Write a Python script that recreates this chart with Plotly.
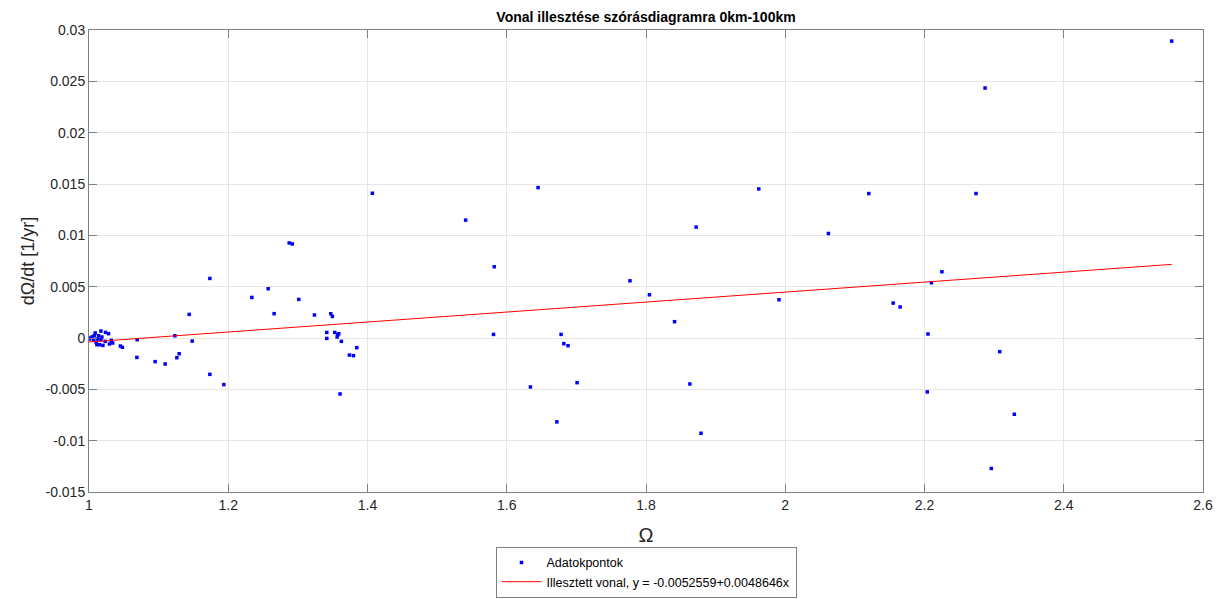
import plotly.graph_objects as go

# Scatter data (Omega, dOmega/dt)
omega = [
    1.0005, 1.0089, 1.0171, 1.0237, 1.028, 1.0042, 1.0075, 1.0137, 1.0185,
    1.0007, 1.0065, 1.0122, 1.0171, 1.0113, 1.0151, 1.02, 1.0294, 1.0103, 1.0233,
    1.032, 1.034, 1.045, 1.048,
    1.0692, 1.0688, 1.095, 1.1094, 1.1233, 1.1262, 1.1295, 1.1439, 1.1482,
    1.1736, 1.1736, 1.1937, 1.2339, 1.2573, 1.2659, 1.2875, 1.292, 1.3013,
    1.3238, 1.3473, 1.3496, 1.3415, 1.353, 1.3415, 1.3574, 1.3588, 1.3564,
    1.3625, 1.3846, 1.374, 1.3798, 1.3606, 1.407,
    1.541, 1.581, 1.582, 1.634, 1.645, 1.672, 1.678, 1.682, 1.688, 1.701,
    1.777, 1.805, 1.841, 1.863, 1.872, 1.879, 1.962, 1.991,
    2.062, 2.120, 2.155, 2.165, 2.204, 2.205, 2.210, 2.225, 2.274, 2.287,
    2.296, 2.308, 2.329, 2.555,
]
domega = [
    0.0, 0.00049, 0.00068, 0.00055, 0.00042, 0.0001, 0.00022, 0.00022, 0.0001,
    -0.0001, -0.00017, -0.0001, -0.00017, -0.00065, -0.00065, -0.00072, -0.00058, -0.00043, -0.00033,
    -0.00023, -0.00049, -0.00078, -0.00091,
    -0.00017, -0.00189, -0.0023, -0.00253, 0.00022, -0.00192, -0.00153, 0.0023, -0.0003,
    0.0058, -0.00354, -0.00454, 0.00395, 0.0048, 0.00237, 0.00926, 0.00916, 0.00376,
    0.00224, 0.00236, 0.0021, 0.00054, 0.00054, -0.00004, 0.00032, 0.00042, 0.0001,
    -0.00033, -0.00094, -0.00166, -0.00172, -0.00545, 0.0141,
    0.01148, 0.00035, 0.00694, -0.00477, 0.01465, -0.00817, 0.00035, -0.00055, -0.00075, -0.00435,
    0.00557, 0.00421, 0.00159, -0.00448, 0.0108, -0.00928, 0.01452, 0.00373,
    0.01018, 0.01407, 0.0034, 0.00302, -0.00525, 0.00039, 0.00538, 0.00645, 0.01407, 0.02435,
    -0.01271, -0.00133, -0.00743, 0.02892,
]

# Fitted line endpoints (y = -0.0052559 + 0.0048646x)
fit_x = [1.0, 2.555]
fit_y = [-0.00039, 0.00717]

x_ticks = [1, 1.2, 1.4, 1.6, 1.8, 2, 2.2, 2.4, 2.6]
x_ticktext = ["1", "1.2", "1.4", "1.6", "1.8", "2", "2.2", "2.4", "2.6"]
y_ticks = [-0.015, -0.01, -0.005, 0, 0.005, 0.01, 0.015, 0.02, 0.025, 0.03]
y_ticktext = ["-0.015", "-0.01", "-0.005", "0", "0.005", "0.01", "0.015", "0.02", "0.025", "0.03"]

font_family = "Liberation Sans, Arial, sans-serif"
axis_color = "#808080"
text_color = "#262626"

fig = go.Figure()
fig.add_trace(go.Scatter(
    x=omega, y=domega, mode="markers", name="Adatokpontok",
    marker=dict(color="#0000ff", size=3.5, symbol="square", line=dict(width=0)),
))
fig.add_trace(go.Scatter(
    x=fit_x, y=fit_y, mode="lines", name="Illesztett vonal, y = -0.0052559+0.0048646x",
    line=dict(color="#ff0000", width=1),
))

fig.update_layout(
    width=1227, height=599,
    margin=dict(l=89, r=24, t=30, b=107, autoexpand=False),
    paper_bgcolor="white", plot_bgcolor="white",
    font=dict(family=font_family, color=text_color, size=14),
    title=dict(
        text="<b>Vonal illesztése szórásdiagramra 0km-100km</b>",
        x=(89 + 1203) / 2 / 1227, xanchor="center", y=1 - 17 / 599, yanchor="middle",
        font=dict(size=14, color="#000000", family=font_family),
    ),
    showlegend=True,
    legend=dict(
        x=0.5, xanchor="center", yref="container", y=0.002, yanchor="bottom",
        bgcolor="white", bordercolor="#808080", borderwidth=1,
        font=dict(size=12.5, color="#000000", family=font_family),
        tracegroupgap=0, itemwidth=40,
    ),
)

fig.update_xaxes(
    range=[1, 2.6], tickvals=x_ticks, ticktext=x_ticktext,
    showgrid=True, gridcolor="#e6e6e6", gridwidth=1, zeroline=False,
    showline=True, linecolor=axis_color, linewidth=1, mirror="ticks",
    ticks="inside", ticklen=8, tickcolor=axis_color,
    tickfont=dict(size=14, color=text_color),
    title=dict(text="Ω", font=dict(size=20, color=text_color), standoff=16),
)
fig.update_yaxes(
    range=[-0.015, 0.03], tickvals=y_ticks, ticktext=y_ticktext,
    showgrid=True, gridcolor="#e6e6e6", gridwidth=1, zeroline=False,
    showline=True, linecolor=axis_color, linewidth=1, mirror="ticks",
    ticks="inside", ticklen=8, tickcolor=axis_color,
    tickfont=dict(size=14, color=text_color),
    title=dict(text="dΩ/dt [1/yr]", font=dict(size=18, color=text_color), standoff=6),
)

fig.write_html("out.html")
